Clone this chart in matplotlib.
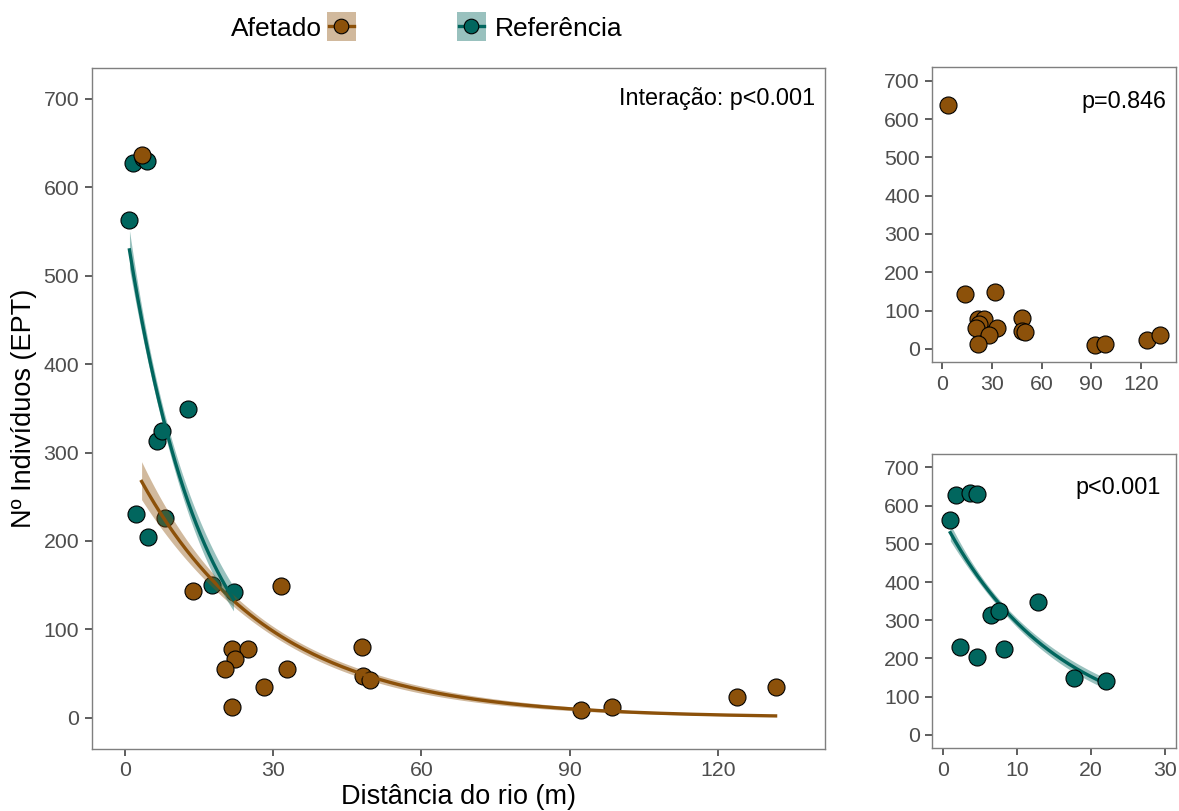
import numpy as np
import matplotlib
matplotlib.use("Agg")
import matplotlib.pyplot as plt
from matplotlib.patches import Rectangle

plt.rcParams['font.family'] = ['Liberation Sans', 'DejaVu Sans']

# ----------------------------------------------
# Data (distance m, EPT count)
# ----------------------------------------------
afet_dist = np.array([3.4, 13.9, 31.6, 21.7, 25.0, 22.2, 20.2, 32.9, 28.1, 21.7,
                      48.0, 48.3, 49.7, 92.3, 98.5, 123.9, 131.7])
afet_ept = np.array([637, 143, 149, 78, 78, 66, 55, 55, 35, 12,
                     80, 47, 43, 9, 12, 24, 35])

ref_dist = np.array([0.94, 1.75, 3.6, 4.5, 2.3, 4.6, 6.5, 7.6, 8.2, 12.8, 17.7, 22.0])
ref_ept = np.array([563, 628, 633, 630, 230, 205, 313, 324, 226, 349, 150, 142])

groups = ["Afetado", "Referência"]
p_main = "Interação: p<0.001"
p_afet = "p=0.846"
p_ref = "p<0.001"

y_ticks = [0, 100, 200, 300, 400, 500, 600, 700]
x_ticks_main = [0, 30, 60, 90, 120]
x_ticks_ref = [0, 10, 20, 30]

BROWN = "#8C510A"
TEAL = "#01665E"
TICK_FS = 15.3
NOTE_FS = 16.8
TITLE_FS = 19.5


# ----------------------------------------------
# Poisson GLM (log link) fitted by IRLS
# ----------------------------------------------
def fit_poisson(x, y):
    X = np.column_stack([np.ones_like(x), x])
    beta = np.array([np.log(y.mean()), 0.0])
    for _ in range(100):
        eta = X @ beta
        mu = np.exp(eta)
        z = eta + (y - mu) / mu
        XtW = X.T * mu
        beta = np.linalg.solve(XtW @ X, XtW @ z)
    mu = np.exp(X @ beta)
    cov = np.linalg.inv((X.T * mu) @ X)
    return beta, cov


def draw_fit(ax, x, y, color, zorder=3):
    beta, cov = fit_poisson(x.astype(float), y.astype(float))
    xs = np.linspace(x.min(), x.max(), 200)
    Xs = np.column_stack([np.ones_like(xs), xs])
    eta = Xs @ beta
    se = np.sqrt(np.einsum('ij,jk,ik->i', Xs, cov, Xs))
    ax.fill_between(xs, np.exp(eta - 1.96 * se), np.exp(eta + 1.96 * se),
                    color=color, alpha=0.4, lw=0, zorder=zorder)
    ax.plot(xs, np.exp(eta), color=color, lw=2.4, zorder=zorder + 0.1)


def style_axes(ax, xticks, xlim):
    ax.set_xlim(*xlim)
    ax.set_ylim(-35, 735)
    ax.set_xticks(xticks)
    ax.set_yticks(y_ticks)
    for s in ax.spines.values():
        s.set_color("#7F7F7F")
        s.set_linewidth(1.0)
    ax.tick_params(length=5, width=1.1, color="#333333", labelcolor="#4D4D4D",
                   labelsize=TICK_FS, pad=4)


def points(ax, x, y, color, zorder=2):
    ax.scatter(x, y, s=150, facecolor=color, edgecolor="black", linewidth=0.8, zorder=zorder)


fig = plt.figure(figsize=(11.79, 8.11), dpi=100)

# main panel
ax = fig.add_axes([91.7 / 1179, 1 - 748.7 / 811, 733.3 / 1179, 680.7 / 811])
points(ax, ref_dist, ref_ept, TEAL, zorder=2)
points(ax, afet_dist, afet_ept, BROWN, zorder=2.1)
draw_fit(ax, afet_dist, afet_ept, BROWN, zorder=3)
draw_fit(ax, ref_dist, ref_ept, TEAL, zorder=3.5)
style_axes(ax, x_ticks_main, (-6.7, 141.7))
ax.set_xlabel("Distância do rio (m)", fontsize=TITLE_FS, labelpad=3)
ax.set_ylabel("Nº Indivíduos (EPT)", fontsize=TITLE_FS, labelpad=5)
ax.text(0.986, 0.955, p_main, transform=ax.transAxes, ha="right", va="center",
        fontsize=NOTE_FS)

# top right: afetado only
ax2 = fig.add_axes([932.3 / 1179, 1 - 362.3 / 811, 243.4 / 1179, 295 / 811])
points(ax2, afet_dist, afet_ept, BROWN)
style_axes(ax2, x_ticks_main, (-6.1, 141.2))
ax2.text(0.96, 0.885, p_afet, transform=ax2.transAxes, ha="right", va="center",
         fontsize=NOTE_FS)

# bottom right: referencia only
ax3 = fig.add_axes([932.3 / 1179, 1 - 748.3 / 811, 243.4 / 1179, 294.3 / 811])
draw_fit(ax3, ref_dist, ref_ept, TEAL, zorder=2)
points(ax3, ref_dist, ref_ept, TEAL, zorder=3)
style_axes(ax3, x_ticks_ref, (-1.5, 31.5))
ax3.text(0.94, 0.885, p_ref, transform=ax3.transAxes, ha="right", va="center",
         fontsize=NOTE_FS)

# legend drawn in pixel coordinates along the top
lax = fig.add_axes([0, 1 - 60 / 811, 1, 60 / 811])
lax.set_xlim(0, 1179)
lax.set_ylim(60, 0)
lax.axis("off")
for (x0, color) in [(327, BROWN), (457, TEAL)]:
    lax.add_patch(Rectangle((x0, 11.7), 28.7, 29, facecolor=color, alpha=0.4, lw=0))
    lax.plot([x0 + 2, x0 + 26.7], [26.2, 26.2], color=color, lw=2.4)
    lax.plot([x0 + 14.35], [26.2], "o", ms=10.5, mfc=color, mec="black", mew=0.8)
lax.text(322, 36, groups[0], ha="right", va="baseline", fontsize=19)
lax.text(495, 36, groups[1], ha="left", va="baseline", fontsize=19)

fig.savefig("out.png", dpi=100)
